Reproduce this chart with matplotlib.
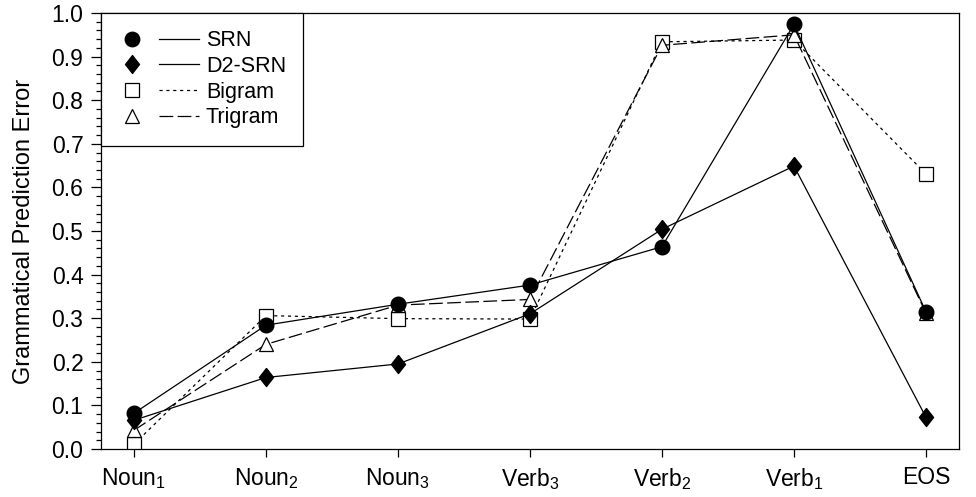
import matplotlib.pyplot as plt
from matplotlib.lines import Line2D
from matplotlib.legend_handler import HandlerBase
from matplotlib.ticker import MultipleLocator

plt.rcParams['font.family'] = ['Liberation Sans', 'DejaVu Sans']
plt.rcParams['mathtext.fontset'] = 'custom'
plt.rcParams['mathtext.rm'] = 'Liberation Sans'
plt.rcParams['mathtext.it'] = 'Liberation Sans'

categories = ["Noun$_1$", "Noun$_2$", "Noun$_3$", "Verb$_3$", "Verb$_2$", "Verb$_1$", "EOS"]
srn = [0.082, 0.284, 0.332, 0.376, 0.464, 0.974, 0.315]
d2srn = [0.066, 0.164, 0.195, 0.310, 0.504, 0.649, 0.073]
bigram = [0.011, 0.306, 0.299, 0.298, 0.934, 0.938, 0.631]
trigram = [0.043, 0.240, 0.330, 0.343, 0.926, 0.950, 0.312]
labels = ["SRN", "D2-SRN", "Bigram", "Trigram"]

# fat diamond like the original
diamond = [(0, 1), (0.78, 0), (0, -1), (-0.78, 0), (0, 1)]
lw = 0.9
dot = (2.5, 3)
dash = (11, 3.5)


class MarkerThenLine(HandlerBase):
    # marker on the left, line sample on the right
    def create_artists(self, legend, orig_handle, xdescent, ydescent,
                       width, height, fontsize, trans):
        mk, ln = orig_handle
        x0 = -xdescent
        y = -ydescent + height / 2
        a = Line2D([x0 + 0.17 * width], [y])
        a.update_from(mk)
        a.set_transform(trans)
        b = Line2D([x0 + 0.5 * width, x0 + width], [y, y])
        b.update_from(ln)
        b.set_transform(trans)
        return [a, b]


x = list(range(len(categories)))

fig = plt.figure(figsize=(9.76, 4.97), dpi=100)
ax = fig.add_axes([0.1035, 0.0966, 0.879, 0.8772])

ax.plot(x, bigram, color="black", lw=lw, dashes=dot, marker="s", ms=10.5,
        mfc="white", mec="black", mew=0.9, zorder=2)
ax.plot(x, trigram, color="black", lw=lw, dashes=dash, marker="^", ms=10.5,
        mfc="white", mec="black", mew=0.9, zorder=3)
ax.plot(x, d2srn, color="black", lw=lw, ls="-", marker=diamond, ms=13,
        mfc="black", mec="black", zorder=4)
ax.plot(x, srn, color="black", lw=lw, ls="-", marker="o", ms=10.5,
        mfc="black", mec="black", zorder=5)

ax.set_xlim(-0.25, 6.25)
ax.set_ylim(0, 1.0)
ax.set_xticks(x)
ax.set_xticklabels(categories)
ax.yaxis.set_major_locator(MultipleLocator(0.1))
ax.yaxis.set_minor_locator(MultipleLocator(0.02))
ax.yaxis.set_major_formatter(plt.FormatStrFormatter("%.1f"))
ax.tick_params(axis="both", which="major", labelsize=16.5, width=0.9,
               direction="out", color="black")
ax.tick_params(axis="y", which="major", length=7.2, pad=5.5)
ax.tick_params(axis="x", which="major", length=6, pad=6.5)
ax.tick_params(axis="y", which="minor", length=3.6, width=0.9, direction="out")
ax.set_ylabel("Grammatical Prediction Error", fontsize=17, labelpad=12)
for s in ax.spines.values():
    s.set_linewidth(0.9)


def mk(marker, ms, fill):
    return Line2D([], [], ls="none", marker=marker, ms=ms, mfc=fill, mec="black", mew=0.9)


handles = [
    (mk("o", 10.5, "black"), Line2D([], [], color="black", lw=lw)),
    (mk(diamond, 13, "black"), Line2D([], [], color="black", lw=lw)),
    (mk("s", 10.5, "white"), Line2D([], [], color="black", lw=lw, dashes=dot)),
    (mk("^", 10.5, "white"), Line2D([], [], color="black", lw=lw, dashes=dash)),
]
leg = ax.legend(handles, labels, loc="upper left", borderaxespad=0, fontsize=15.5,
                handler_map={tuple: MarkerThenLine()},
                handlelength=3.77, handletextpad=0.3, labelspacing=0.22,
                borderpad=0.8, fancybox=False, framealpha=1, edgecolor="black")
leg.get_frame().set_linewidth(0.9)

fig.savefig("out.png", dpi=100)
